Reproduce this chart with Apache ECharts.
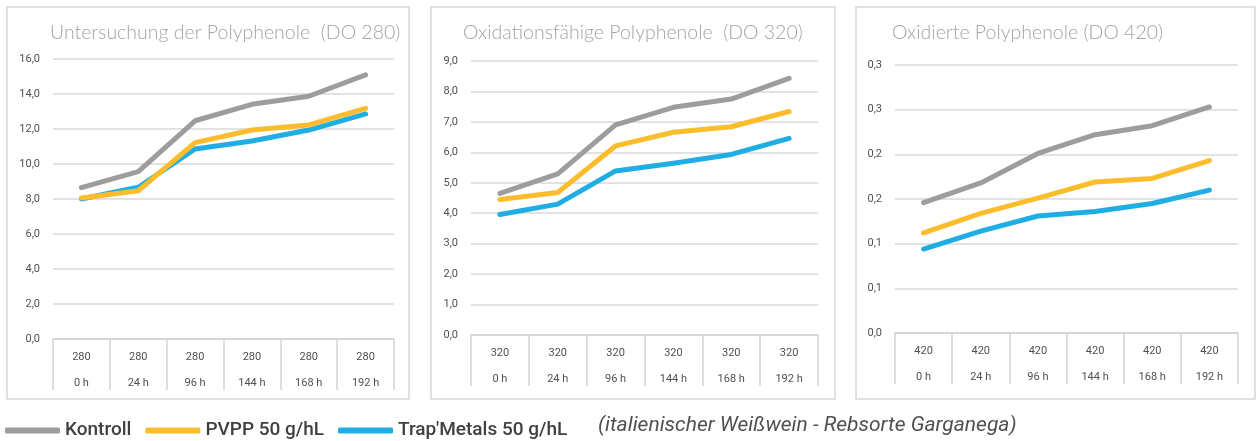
<!DOCTYPE html>
<html>
<head>
<meta charset="utf-8">
<script src="https://cdn.jsdelivr.net/npm/echarts@6/dist/echarts.min.js"></script>
<style>
  html, body { margin: 0; padding: 0; background: #fff; }
  #main { width: 1258px; height: 441px; }
</style>
</head>
<body>
<div id="main"></div>
<script>
// Zeitpunkte und Wellenlaengen
var hours = ['0 h', '24 h', '96 h', '144 h', '168 h', '192 h'];
var waves = ['280', '320', '420'];
var seriesNames = ['Kontroll', 'PVPP 50 g/hL', "Trap'Metals 50 g/hL"];
var titles = ['Untersuchung der Polyphenole  (DO 280)', 'Oxidationsfähige Polyphenole  (DO 320)', 'Oxidierte Polyphenole (DO 420)'];

// DO 280
var kontroll280 = [8.65, 9.56, 12.47, 13.41, 13.87, 15.09];
var pvpp280 = [8.06, 8.47, 11.22, 11.94, 12.23, 13.18];
var trap280 = [8.0, 8.67, 10.86, 11.31, 11.94, 12.86];
// DO 320
var kontroll320 = [4.65, 5.29, 6.90, 7.48, 7.75, 8.43];
var pvpp320 = [4.45, 4.68, 6.21, 6.66, 6.84, 7.34];
var trap320 = [3.96, 4.30, 5.39, 5.64, 5.93, 6.46];
// DO 420
var kontroll420 = [0.146, 0.168, 0.201, 0.222, 0.232, 0.253];
var pvpp420 = [0.112, 0.134, 0.151, 0.169, 0.173, 0.193];
var trap420 = [0.094, 0.114, 0.131, 0.136, 0.145, 0.160];

var yMax = [16, 9, 0.3];
var yStep = [2, 1, 0.05];

var colors = ['#9d9d9d', '#fcbd2c', '#1fade4'];
var chartFont = 'Roboto, "DejaVu Sans", sans-serif';
var titleFont = 'Lato, "DejaVu Sans", sans-serif';

var chart = echarts.init(document.getElementById('main'));

var grids = [
  { left: 53, top: 59, width: 341, height: 280 },
  { left: 471, top: 61, width: 347, height: 274 },
  { left: 895, top: 65, width: 343, height: 268 }
];
var panels = [
  { x: 7, y: 7, w: 402, h: 392 },
  { x: 431, y: 7, w: 404, h: 392 },
  { x: 856, y: 7, w: 399, h: 392 }
];
var titlePos = [
  { left: 45, top: 18 },
  { left: 458, top: 18 },
  { left: 887, top: 18 }
];

var allData = [
  [kontroll280, pvpp280, trap280],
  [kontroll320, pvpp320, trap320],
  [kontroll420, pvpp420, trap420]
];

function fmtNum(v) {
  var r = Math.round(v * 10 + 1e-6) / 10;
  return r.toFixed(1).replace('.', ',');
}

var xAxes = [], yAxes = [], series = [], title = [], graphic = [];

for (var i = 0; i < 3; i++) {
  (function (i) {
    xAxes.push({
      type: 'category',
      gridIndex: i,
      data: hours,
      boundaryGap: true,
      axisLine: { show: true, lineStyle: { color: '#d4d4d4', width: 1.5 } },
      axisTick: { show: true, length: 51, lineStyle: { color: '#d4d4d4', width: 1.5 } },
      axisLabel: {
        margin: 5,
        interval: 0,
        formatter: function (val) {
          return '{a|' + waves[i] + '}\n{b|' + val + '}';
        },
        rich: {
          a: { fontSize: 11, lineHeight: 26, color: '#505050', fontFamily: chartFont },
          b: { fontSize: 11, lineHeight: 26, color: '#505050', fontFamily: chartFont }
        }
      }
    });
    yAxes.push({
      type: 'value',
      gridIndex: i,
      min: 0,
      max: yMax[i],
      interval: yStep[i],
      axisLine: { show: false },
      axisTick: { show: false },
      axisLabel: {
        margin: 13,
        fontSize: 11,
        color: '#505050',
        fontFamily: chartFont,
        formatter: fmtNum
      },
      splitLine: { lineStyle: { color: '#d9d9d9', width: 1.5 } }
    });
    for (var s = 0; s < 3; s++) {
      series.push({
        name: seriesNames[s],
        type: 'line',
        xAxisIndex: i,
        yAxisIndex: i,
        data: allData[i][s],
        symbol: 'none',
        color: colors[s],
        lineStyle: { width: 5, color: colors[s], cap: 'round', join: 'round' },
        z: 10 - s
      });
    }
    title.push({
      text: titles[i],
      left: titlePos[i].left,
      top: titlePos[i].top,
      textStyle: { fontSize: 19.5, fontWeight: 300, color: '#a3a3a3', fontFamily: titleFont }
    });
    graphic.push({
      type: 'rect',
      shape: { x: panels[i].x, y: panels[i].y, width: panels[i].w, height: panels[i].h },
      style: { fill: null, stroke: '#d6d6d6', lineWidth: 1.5 },
      z: -1
    });
  })(i);
}

graphic.push({
  type: 'text',
  left: 598,
  top: 415,
  style: {
    text: '(italienischer Weißwein - Rebsorte Garganega)',
    fontSize: 21,
    fontStyle: 'italic',
    fill: '#505050',
    fontFamily: chartFont
  }
});

chart.setOption({
  animation: false,
  title: title,
  grid: grids,
  xAxis: xAxes,
  yAxis: yAxes,
  series: series,
  graphic: graphic,
  legend: {
    left: 0,
    top: 416,
    data: seriesNames,
    icon: 'roundRect',
    itemWidth: 55,
    itemHeight: 6,
    itemGap: 14,
    textStyle: { fontSize: 19, color: '#404040', fontFamily: chartFont, fontWeight: 500 }
  }
});
</script>
</body>
</html>
